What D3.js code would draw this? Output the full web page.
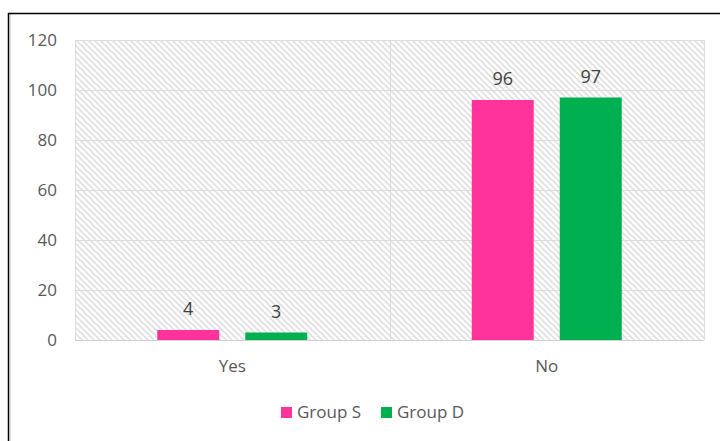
<!DOCTYPE html>
<html><head><meta charset="utf-8">
<script src="https://cdn.jsdelivr.net/npm/d3@7"></script>
<style>body{margin:0;background:#fff;}svg{display:block;font-family:"Open Sans",sans-serif;}</style>
</head><body><svg id="c" width="720" height="441"></svg>
<script>
const categories = ["Yes", "No"];
const seriesNames = ["Group S", "Group D"];
const groupS = [4, 96];
const groupD = [3, 97];
const yTicks = [0, 20, 40, 60, 80, 100, 120];
const colors = ["#FF3399", "#00B050"];

const svg = d3.select("#c");
const W = 720, H = 441;
const m = {left: 75, right: 704, top: 40, bottom: 340};

// outer border (left and top visible)
svg.append("line").attr("x1", 8.5).attr("x2", 8.5).attr("y1", 13).attr("y2", H).attr("stroke", "#000").attr("stroke-width", 1.5);
svg.append("line").attr("x1", 10.5).attr("x2", 10.5).attr("y1", 14).attr("y2", H).attr("stroke", "#d9d9d9").attr("stroke-width", 1);
svg.append("line").attr("x1", 8).attr("x2", W).attr("y1", 13.5).attr("y2", 13.5).attr("stroke", "#000").attr("stroke-width", 1.5);

const defs = svg.append("defs");
const pat = defs.append("pattern").attr("id", "hatch").attr("patternUnits", "userSpaceOnUse")
  .attr("width", 6).attr("height", 6);
pat.append("rect").attr("width", 6).attr("height", 6).attr("fill", "#fff");
pat.append("path").attr("d", "M-1,-1 L7,7 M-4,2 L1,7 M2,-4 L7,1")
  .attr("stroke", "#e0e0e0").attr("stroke-width", 1.6);

const x0 = d3.scaleBand().domain(categories).range([m.left, m.right]).paddingInner(0).paddingOuter(0);
const y = d3.scaleLinear().domain([0, 120]).range([m.bottom, m.top]);
const x1 = d3.scaleBand().domain(seriesNames).range([0, x0.bandwidth()]).paddingInner(0.2955).paddingOuter(0.935);

svg.append("rect").attr("x", m.left).attr("y", m.top).attr("width", m.right - m.left).attr("height", m.bottom - m.top)
  .attr("fill", "url(#hatch)");

// gridlines
svg.append("g").selectAll("line").data(yTicks).join("line")
  .attr("x1", m.left).attr("x2", m.right)
  .attr("y1", d => Math.round(y(d)) + 0.5).attr("y2", d => Math.round(y(d)) + 0.5)
  .attr("stroke", d => d === 0 ? "#d0d0d0" : "#dcdcdc").attr("stroke-width", 1);
// vertical lines: plot edges and category boundary
const vx = [m.left, x0("No"), m.right];
svg.append("g").selectAll("line").data(vx).join("line")
  .attr("x1", d => Math.round(d) + 0.5).attr("x2", d => Math.round(d) + 0.5)
  .attr("y1", m.top).attr("y2", m.bottom)
  .attr("stroke", "#dcdcdc").attr("stroke-width", 1);

// y axis labels
const yAxis = d3.axisLeft(y).tickValues(yTicks).tickSize(0).tickPadding(0);
const ga = svg.append("g").attr("transform", `translate(${m.left - 18},0)`).call(yAxis);
ga.select(".domain").remove();
ga.selectAll("text").attr("font-family", "Open Sans").attr("font-size", 17).attr("fill", "#595959");

// x axis labels
const xAxis = d3.axisBottom(x0).tickSize(0).tickPadding(0);
const gx = svg.append("g").attr("transform", `translate(0,${m.bottom + 20})`).call(xAxis);
gx.select(".domain").remove();
gx.selectAll("text").attr("font-family", "Open Sans").attr("font-size", 17).attr("fill", "#595959");

const series = [groupS, groupD];
series.forEach((vals, si) => {
  const g = svg.append("g");
  g.selectAll("rect").data(categories).join("rect")
    .attr("x", c => x0(c) + x1(seriesNames[si]))
    .attr("y", (c, i) => y(vals[i]))
    .attr("width", x1.bandwidth())
    .attr("height", (c, i) => y(0) - y(vals[i]))
    .attr("fill", colors[si]);
  g.selectAll("text").data(categories).join("text")
    .attr("x", c => x0(c) + x1(seriesNames[si]) + x1.bandwidth() / 2)
    .attr("y", (c, i) => y(vals[i]) - 15)
    .attr("text-anchor", "middle")
    .attr("font-size", 18).attr("fill", "#404040")
    .text((c, i) => vals[i]);
});

// legend
const legX = [281, 381];
const lg = svg.append("g");
seriesNames.forEach((n, i) => {
  lg.append("rect").attr("x", legX[i]).attr("y", 407).attr("width", 11).attr("height", 11).attr("fill", colors[i]);
  lg.append("text").attr("x", legX[i] + 16).attr("y", 418).attr("font-size", 17).attr("fill", "#595959").text(n);
});
</script></body></html>
